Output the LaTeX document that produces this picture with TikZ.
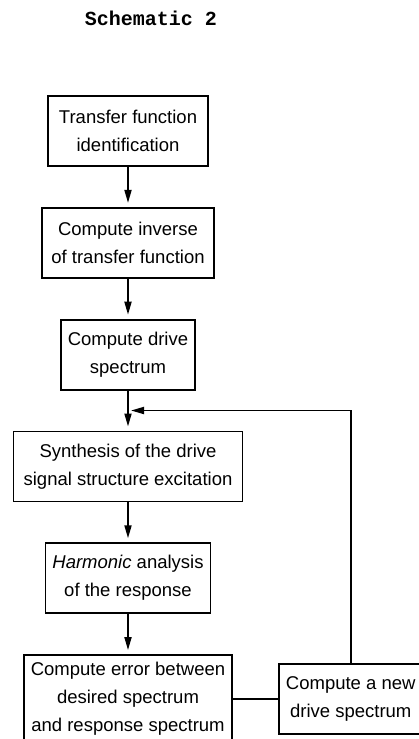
\documentclass[tikz,border=0pt]{standalone}
\usepackage{fontspec}
\setmainfont{Liberation Sans}
\newfontfamily\titlefont{Liberation Mono}
\usetikzlibrary{arrows.meta, positioning}

\begin{document}
\begin{tikzpicture}[
        x=1pt, y=1pt,
        node distance=40pt and 45pt,
        box/.style={rectangle, draw, line width=1.8pt, minimum height=70pt, inner sep=7pt, align=center, font=\fontsize{18.5}{28}\selectfont},
        flowline/.style={line width=1.8pt},
        arrowline/.style={-{Triangle[length=13pt, width=7pt]}, line width=1.8pt, shorten >=4pt}
    ]
        \useasboundingbox (0,0) rectangle (419,-739);
        \node[font=\titlefont\bfseries\fontsize{20}{24}\selectfont] (title) at (151,-18) {Schematic 2};
        \node[box, minimum width=160pt] (ident) at (128,-131) {Transfer function\\identification};
        \node[box, below=of ident, minimum width=172pt] (inverse) {Compute inverse\\of transfer function};
        \node[box, below=of inverse, minimum width=130pt] (drive) {Compute drive\\spectrum};
        \node[box, below=of drive, minimum width=229pt] (synth) {Synthesis of the drive\\signal structure excitation};
        \node[box, below=of synth, minimum width=157pt] (harmonic) {\textit{Harmonic} analysis\\of the response};
        \node[box, below=of harmonic, minimum width=206pt] (error) {Compute error between\\desired spectrum\\and response spectrum};
        \node[box, right=of error, minimum width=142pt] (newdrive) {Compute a new\\drive spectrum};
        \path (drive.south) -- coordinate[midway] (join) (synth.north);
        \draw[arrowline] (ident) -- (inverse);
        \draw[arrowline] (inverse) -- (drive);
        \draw[flowline] (drive) -- (join);
        \draw[arrowline] (join) -- (synth);
        \draw[arrowline] (synth) -- (harmonic);
        \draw[arrowline] (harmonic) -- (error);
        \draw[flowline] (error) -- (newdrive);
        \draw[arrowline, shorten >=3pt] (newdrive.north) |- (join);
    \end{tikzpicture}
\end{document}
